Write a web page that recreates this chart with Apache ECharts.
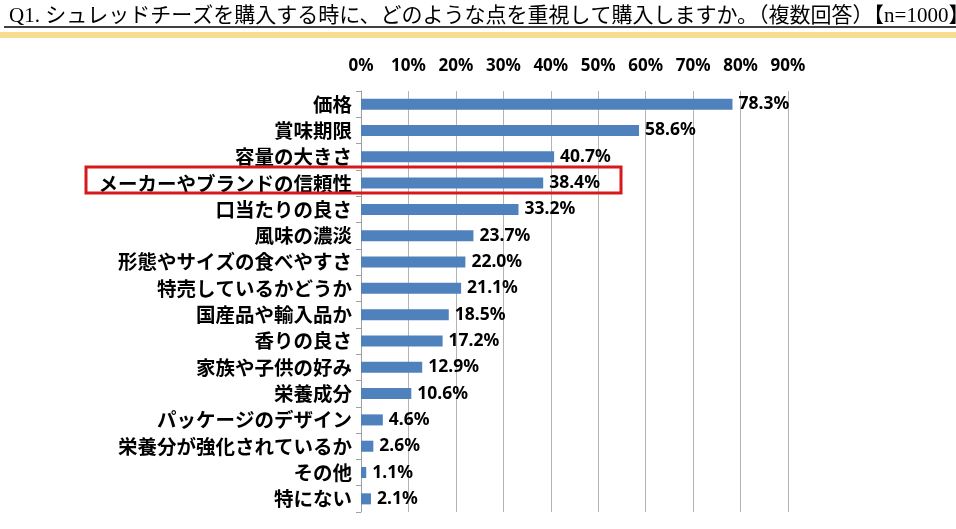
<!DOCTYPE html>
<html>
<head>
    <meta charset="utf-8"/>
    <title>シュレッドチーズ購入時の重視点</title>
    <script src="https://cdn.jsdelivr.net/npm/echarts@6/dist/echarts.min.js"></script>
    <style>
        html, body { margin: 0; padding: 0; background: #fff; }
        #chart1 { width: 956px; height: 529px; }
    </style>
</head>
<body>
<div id="chart1"></div>
<script type="text/javascript">
    // 設問の選択肢（上から順）
    var categories = ['価格', '賞味期限', '容量の大きさ', 'メーカーやブランドの信頼性', '口当たりの良さ',
        '風味の濃淡', '形態やサイズの食べやすさ', '特売しているかどうか', '国産品や輸入品か', '香りの良さ',
        '家族や子供の好み', '栄養成分', 'パッケージのデザイン', '栄養分が強化されているか', 'その他', '特にない'];
    // 回答率（%）
    var rates = [78.3, 58.6, 40.7, 38.4, 33.2, 23.7, 22.0, 21.1, 18.5, 17.2, 12.9, 10.6, 4.6, 2.6, 1.1, 2.1];
    var axisMax = 90;
    var axisStep = 10;

    var titleText = 'Q1. シュレッドチーズを購入する時に、どのような点を重視して購入しますか。（複数回答）【n=1000】';

    var myChart1 = echarts.init(document.getElementById('chart1'));

    myChart1.setOption({
        animation: false,
        title: {
            text: titleText,
            left: 4,
            top: 1,
            textStyle: {
                fontFamily: '"Liberation Serif", "Noto Sans CJK JP", serif',
                fontWeight: 'normal',
                fontSize: 21,
                color: '#000'
            }
        },
        graphic: [
            // タイトル下線
            {type: 'line', shape: {x1: 4, y1: 27, x2: 956, y2: 27}, style: {stroke: '#000', lineWidth: 1.5}},
            // 黄色の帯
            {type: 'rect', shape: {x: 0, y: 32, width: 956, height: 6}, style: {fill: '#F8DD8E'}},
            // 強調枠
            {type: 'rect', z: 100, shape: {x: 86, y: 167, width: 535, height: 26},
                style: {fill: 'none', stroke: '#D7191C', lineWidth: 3}}
        ],
        grid: {
            left: 361,
            right: 168,
            top: 91,
            bottom: 17,
            containLabel: false
        },
        xAxis: {
            type: 'value',
            position: 'top',
            min: 0,
            max: axisMax,
            interval: axisStep,
            axisLine: {show: false},
            axisTick: {show: false},
            axisLabel: {
                formatter: '{value}%',
                fontFamily: '"Noto Sans", sans-serif',
                fontWeight: 'bold',
                fontSize: 17,
                color: '#000',
                margin: 16
            },
            splitLine: {lineStyle: {color: '#B4B4B4', width: 1}}
        },
        yAxis: {
            type: 'category',
            inverse: true,
            data: categories,
            axisLine: {lineStyle: {color: '#A0A0A0'}},
            axisTick: {show: true, length: 5, lineStyle: {color: '#A0A0A0'}},
            axisLabel: {
                fontFamily: '"Noto Sans CJK JP", sans-serif',
                fontWeight: 'bold',
                fontSize: 19.5,
                color: '#000',
                margin: 9
            }
        },
        series: [
            {
                name: '回答率',
                type: 'bar',
                data: rates,
                barWidth: '42%',
                itemStyle: {color: '#4F81BD'},
                label: {
                    show: true,
                    position: 'right',
                    distance: 6,
                    formatter: function (p) {
                        return p.value.toFixed(1) + '%';
                    },
                    fontFamily: '"Noto Sans", sans-serif',
                    fontWeight: 'bold',
                    fontSize: 17.5,
                    color: '#000'
                }
            }
        ]
    });
</script>
</body>
</html>
